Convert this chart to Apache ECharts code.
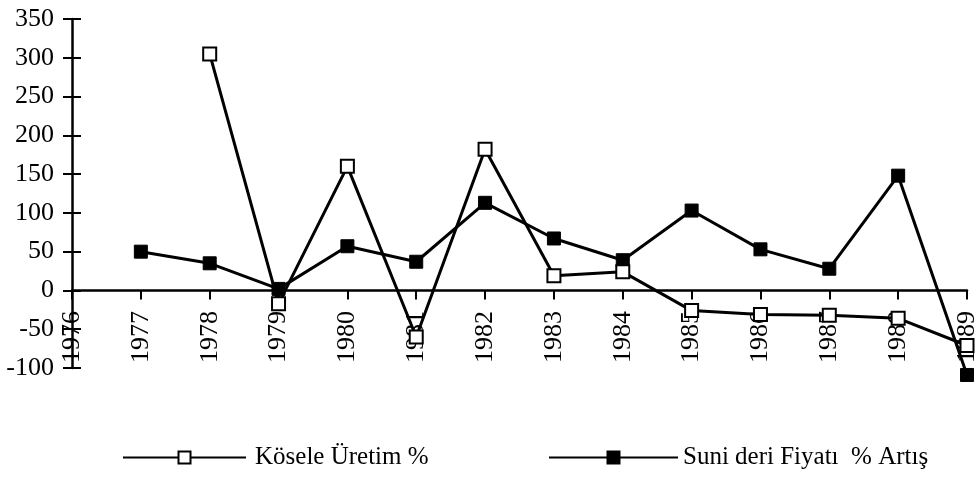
<!DOCTYPE html>
<html>
<head>
<meta charset="utf-8">
<script src="https://cdn.jsdelivr.net/npm/echarts@6/dist/echarts.min.js"></script>
<style>
  * { margin: 0; padding: 0; }
  body { background: #fff; }
</style>
</head>
<body>
<!-- grafik kabı -->
<div id="main" style="width: 980px;height: 485px;"></div>
<script>
  var years = ['1976','1977','1978','1979','1980','1981','1982','1983','1984','1985','1986','1987','1988','1989'];
  // Kösele Üretim % (boş kare)
  var koseleUretim = [null, null, 305, -17, 160, -60, 182, 19, 24, -26, -31, -32, -36, -71];
  // Suni deri Fiyatı % Artış (dolu kare)
  var suniDeriFiyat = [null, 50, 35, 2, 57, 37, 113, 67, 39, 103, 53, 28, 148, -109];
  var yTicks = [-100, -50, 0, 50, 100, 150, 200, 250, 300, 350];

  var fontFam = '"Liberation Serif", "DejaVu Serif", serif';
  var mycharts = echarts.init(document.getElementById('main'));
  var option = {
    backgroundColor: '#fff',
    animation: false,
    legend: [{
      data: ['Kösele Üretim %'],
      left: 117,
      top: 440,
      itemWidth: 123,
      itemHeight: 15,
      itemGap: 0,
      textStyle: { color: '#000', fontFamily: fontFam, fontSize: 25, padding: [0, 0, 0, 4] }
    }, {
      data: ['Suni deri Fiyatı  % Artış'],
      left: 543,
      top: 440,
      itemWidth: 129,
      itemHeight: 15,
      textStyle: { color: '#000', fontFamily: fontFam, fontSize: 25 }
    }],
    grid: { left: 72, right: 5, top: 19, bottom: 117 },
    xAxis: {
      type: 'category',
      boundaryGap: false,
      data: years,
      axisLine: { onZero: true, lineStyle: { color: '#000', width: 2.5 } },
      axisTick: { show: true, alignWithLabel: true, length: 9, lineStyle: { color: '#000', width: 2 } },
      // etiketler sıfır çizgisinin hemen altında
      axisLabel: { interval: 0, rotate: 90, margin: -57, color: '#000', fontFamily: fontFam, fontSize: 26 },
      splitLine: { show: false }
    },
    yAxis: [{
      type: 'value',
      min: yTicks[0],
      max: yTicks[yTicks.length - 1],
      interval: 50,
      axisLine: { show: true, lineStyle: { color: '#000', width: 2.5 } },
      axisTick: { show: true, length: 9, lineStyle: { color: '#000', width: 2 } },
      axisLabel: { margin: 18, color: '#000', fontFamily: fontFam, fontSize: 26 },
      splitLine: { show: false }
    }, {
      type: 'value',
      position: 'left',
      min: yTicks[0],
      max: yTicks[yTicks.length - 1],
      interval: 50,
      axisLine: { show: false },
      axisTick: { show: true, inside: true, length: 9, lineStyle: { color: '#000', width: 2 } },
      axisLabel: { show: false },
      splitLine: { show: false }
    }],
    series: [{
      name: 'Suni deri Fiyatı  % Artış',
      type: 'line',
      data: suniDeriFiyat,
      clip: false,
      symbol: 'rect',
      symbolSize: 13,
      lineStyle: { color: '#000', width: 3 },
      itemStyle: { color: '#000', borderColor: '#000', borderWidth: 1 }
    }, {
      name: 'Kösele Üretim %',
      type: 'line',
      data: koseleUretim,
      clip: false,
      symbol: 'rect',
      symbolSize: 13,
      lineStyle: { color: '#000', width: 3 },
      itemStyle: { color: '#fff', borderColor: '#000', borderWidth: 2 }
    }]
  };
  mycharts.setOption(option);
</script>
</body>
</html>
